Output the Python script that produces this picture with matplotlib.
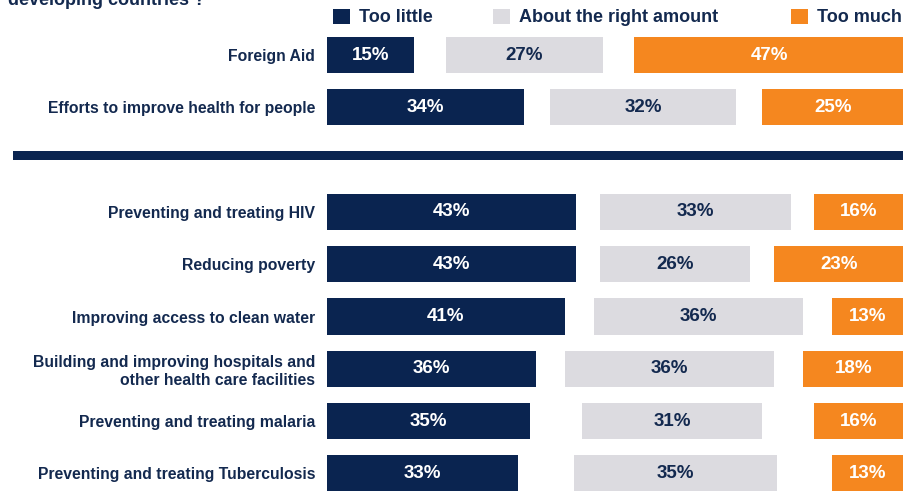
import matplotlib
matplotlib.use("Agg")
import matplotlib.pyplot as plt
from matplotlib.patches import Rectangle
import numpy as np

# ---- data ----
categories = [
    "Foreign Aid",
    "Efforts to improve health for people",
    "Preventing and treating HIV",
    "Reducing poverty",
    "Improving access to clean water",
    "Building and improving hospitals and\nother health care facilities",
    "Preventing and treating malaria",
    "Preventing and treating Tuberculosis",
]
too_little = [15, 34, 43, 43, 41, 36, 35, 33]
about_right = [27, 32, 33, 26, 36, 36, 31, 35]
too_much = [47, 25, 16, 23, 13, 18, 16, 13]
series_names = ["Too little", "About the right amount", "Too much"]
title_text = "developing countries ?"

# ---- style ----
NAVY = "#0A2450"
TEXT = "#13294F"
GRAY = "#DCDBE0"
ORANGE = "#F5871F"
FONT = "Liberation Sans"
plt.rcParams["font.family"] = [FONT, "DejaVu Sans"]

W, H = 904, 491
fig = plt.figure(figsize=(W / 100, H / 100), dpi=100)

ax = fig.add_axes([327 / W, 0, 1 - 327 / W, 1])
row_pos = np.array([0, 1, 3, 4, 5, 6, 7, 8], dtype=float)

tl = np.array(too_little, dtype=float)
ar = np.array(about_right, dtype=float)
tm = np.array(too_much, dtype=float)
# remaining share (don't know) split as spacing between segments
spacer = (100 - tl - ar - tm) / 2.0

bh = 0.69
c1 = ax.barh(row_pos, tl, height=bh, color=NAVY)
c2 = ax.barh(row_pos, ar, left=tl + spacer, height=bh, color=GRAY)
c3 = ax.barh(row_pos, tm, left=tl + spacer + ar + spacer, height=bh, color=ORANGE)

lab_kw = dict(label_type="center", fontsize=13.5, fontweight="bold")
ax.bar_label(c1, labels=[f"{v}%" for v in too_little], color="white", **lab_kw)
ax.bar_label(c2, labels=[f"{v}%" for v in about_right], color=TEXT, **lab_kw)
ax.bar_label(c3, labels=[f"{v}%" for v in too_much], color="white", **lab_kw)

ax.set_xlim(0, (W - 327) / 5.8)
ax.set_ylim((H - 55) / 52.3, -55 / 52.3)
ax.set_xticks([])
ax.set_yticks(row_pos, categories)
ax.tick_params(axis="y", length=0, pad=8.6)
for t in ax.get_yticklabels():
    t.set_fontsize(11.3)
    t.set_fontweight("bold")
    t.set_color(TEXT)
    t.set_multialignment("right")
for s in ax.spines.values():
    s.set_visible(False)
ax.patch.set_visible(False)

# separator bar
fig.add_artist(Rectangle((13 / W, 1 - 160 / H), 1 - 13 / W, 9 / H,
                         transform=fig.transFigure, color=NAVY, lw=0))

# title (cut at the top)
fig.text(8 / W, 1 - 5 / H, title_text, ha="left", va="baseline",
         fontsize=13, fontweight="bold", color=TEXT)

# legend
leg_items = [(333, NAVY), (493, GRAY), (791, ORANGE)]
for (x0, col), name in zip(leg_items, series_names):
    fig.add_artist(Rectangle((x0 / W, 1 - 24 / H), 17 / W, 15 / H,
                             transform=fig.transFigure, color=col, lw=0))
    fig.text((x0 + 26) / W, 1 - 17 / H, name, ha="left", va="center",
             fontsize=13, fontweight="bold", color=TEXT)

fig.savefig("out.png", dpi=100)
